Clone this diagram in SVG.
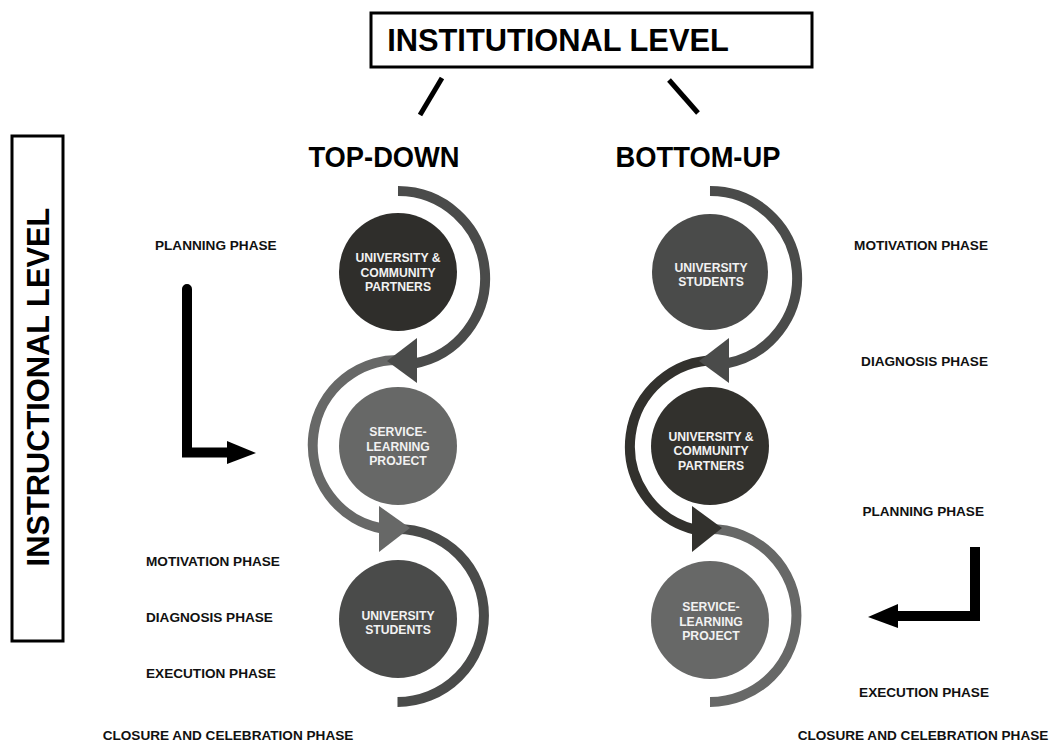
<svg xmlns="http://www.w3.org/2000/svg" width="1058" height="743" viewBox="0 0 1058 743">
<style>
text{font-family:"Liberation Sans",Arial,sans-serif;font-weight:bold}
.big{font-size:30.8px;fill:#000}
.head{font-size:27.3px;fill:#000}
.ph{font-size:13.6px;fill:#111}
.ct{font-size:12.2px;fill:#f2f2f2;text-anchor:middle}
.box{fill:#fff;stroke:#000;stroke-width:3}
.arc{fill:none;stroke-width:10}
.c1{fill:#2f2e2b}.c2{fill:#4a4b4a}.c3{fill:#676867}
.s1{stroke:#32312d}.s2{stroke:#4a4b4a}.s3{stroke:#676867}
.blk{fill:none;stroke:#000;stroke-width:10;stroke-linejoin:miter}
</style>
<rect width="1058" height="743" fill="#fff"/>
<g id="institutional-level">
<rect class="box" x="371" y="13" width="441" height="54"/>
<text class="big" x="558" y="51" text-anchor="middle">INSTITUTIONAL LEVEL</text>
</g>
<g id="instructional-level">
<rect class="box" x="12" y="136" width="51" height="505"/>
<text class="big" transform="translate(49,387) rotate(-90)" text-anchor="middle">INSTRUCTIONAL LEVEL</text>
</g>
<g id="top-down-title"><text class="head" x="384" y="167" text-anchor="middle" transform="translate(0,-12) scale(1,1.07)">TOP-DOWN</text></g>
<g id="bottom-up-title"><text class="head" x="698" y="167" text-anchor="middle" transform="translate(0,-12) scale(1,1.07)">BOTTOM-UP</text></g>
<g id="connectors">
<line x1="442" y1="78" x2="420" y2="115" stroke="#000" stroke-width="5"/>
<line x1="669" y1="80" x2="698" y2="113" stroke="#000" stroke-width="5"/>
<path class="arc s2" d="M398,191 A87,87 0 0 1 413.1,363.7"/>
<path class="arc s3" d="M405.4,360.3 A85,85 0 0 0 383.2,528.7"/>
<path class="arc s2" d="M397.5,529 A86.5,86.5 0 0 1 397.5,702"/>
<polygon class="c2" points="417,338 417,383 387,361"/>
<polygon class="c3" points="379,506 379,552 410,528"/>
<path class="arc s2" d="M710,191 A87,87 0 0 1 725.1,363.7"/>
<path class="arc s1" d="M717.5,360.3 A86,86 0 0 0 695,529.7"/>
<path class="arc s3" d="M710,529 A86.5,86.5 0 0 1 710,702"/>
<polygon class="c2" points="729,338 729,383 699,361"/>
<polygon fill="#32312d" points="692,506 692,552 722,528"/>
<path class="blk" d="M187,289 L187,452.5 L229,452.5" stroke-linecap="round"/>
<polygon fill="#000" points="227,441 227,464 256,453"/>
<path class="blk" d="M975,547 L975,616 L895,616" stroke-width="9"/>
<polygon fill="#000" points="898,604 898,628 868,617"/>
</g>
<g id="td-partners">
<circle class="c1" cx="398" cy="272" r="59"/>
<text class="ct" x="398" y="262">UNIVERSITY &amp;</text>
<text class="ct" x="398" y="277">COMMUNITY</text>
<text class="ct" x="398" y="291">PARTNERS</text>
</g>
<g id="td-project">
<circle class="c3" cx="398" cy="446" r="59"/>
<text class="ct" x="398" y="436">SERVICE-</text>
<text class="ct" x="398" y="451">LEARNING</text>
<text class="ct" x="398" y="465">PROJECT</text>
</g>
<g id="td-students">
<circle class="c2" cx="398" cy="619" r="59"/>
<text class="ct" x="398" y="620">UNIVERSITY</text>
<text class="ct" x="398" y="634">STUDENTS</text>
</g>
<g id="bu-students">
<circle class="c2" cx="710" cy="272" r="58"/>
<text class="ct" x="711" y="272">UNIVERSITY</text>
<text class="ct" x="711" y="286">STUDENTS</text>
</g>
<g id="bu-partners">
<circle fill="#32312d" cx="710" cy="446" r="59"/>
<text class="ct" x="711" y="441">UNIVERSITY &amp;</text>
<text class="ct" x="711" y="455">COMMUNITY</text>
<text class="ct" x="711" y="470">PARTNERS</text>
</g>
<g id="bu-project">
<circle class="c3" cx="710" cy="620" r="59"/>
<text class="ct" x="711" y="611">SERVICE-</text>
<text class="ct" x="711" y="626">LEARNING</text>
<text class="ct" x="711" y="640">PROJECT</text>
</g>
<g id="td-phases">
<text class="ph" x="155" y="250">PLANNING PHASE</text>
<text class="ph" x="146" y="566">MOTIVATION PHASE</text>
<text class="ph" x="146" y="622">DIAGNOSIS PHASE</text>
<text class="ph" x="146" y="678">EXECUTION PHASE</text>
<text class="ph" x="228" y="740" text-anchor="middle">CLOSURE AND CELEBRATION PHASE</text>
</g>
<g id="bu-phases">
<text class="ph" x="988" y="250" text-anchor="end">MOTIVATION PHASE</text>
<text class="ph" x="988" y="366" text-anchor="end">DIAGNOSIS PHASE</text>
<text class="ph" x="984" y="516" text-anchor="end">PLANNING PHASE</text>
<text class="ph" x="989" y="697" text-anchor="end">EXECUTION PHASE</text>
<text class="ph" x="923" y="740" text-anchor="middle">CLOSURE AND CELEBRATION PHASE</text>
</g>
</svg>
